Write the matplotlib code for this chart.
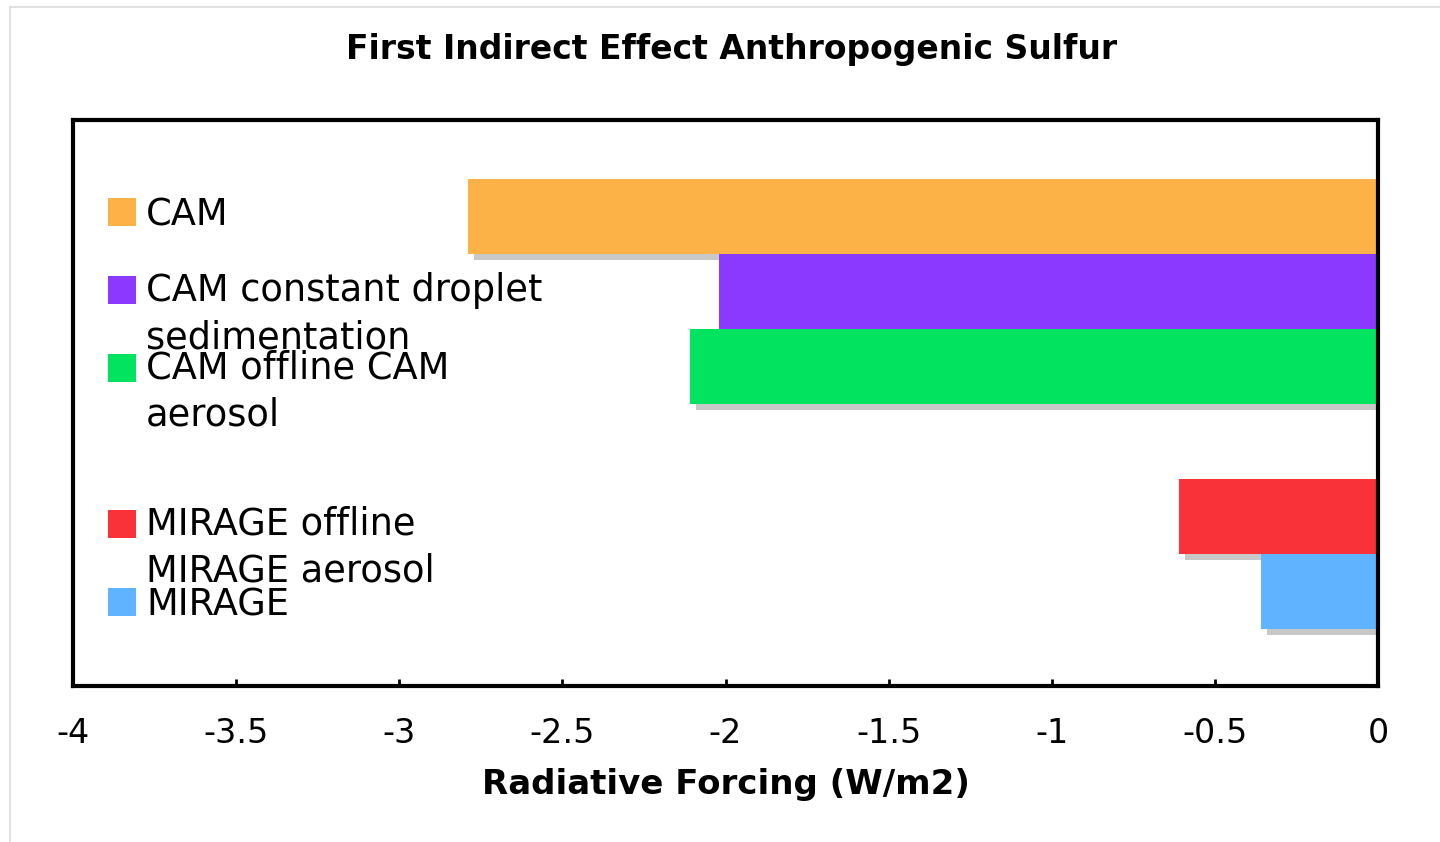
import matplotlib
matplotlib.use('Agg')
import matplotlib.pyplot as plt
import matplotlib.patheffects as pe
from matplotlib.lines import Line2D
from matplotlib.patches import Rectangle

# Data
labels = ['CAM',
          'CAM constant droplet\nsedimentation',
          'CAM offline CAM\naerosol',
          'MIRAGE offline\nMIRAGE aerosol',
          'MIRAGE']
forcing = [-2.79, -2.02, -2.11, -0.61, -0.36]
slots = [0, 1, 2, 4, 5]   # empty slot between the CAM and MIRAGE groups
colors = ['#FDB247', '#8B38FF', '#02E360', '#F83238', '#5FB3FF']
xticks = [-4, -3.5, -3, -2.5, -2, -1.5, -1, -0.5, 0]

W, H = 1440, 842
fig = plt.figure(figsize=(W / 100, H / 100), dpi=100)
fig.patch.set_facecolor('white')

def fx(px):
    return px / W

def fy(py):
    return 1 - py / H

ax = fig.add_axes([fx(73), fy(686), fx(1378) - fx(73), fy(120) - fy(686)])

shadow = [pe.SimplePatchShadow(offset=(4.3, -4.0), shadow_rgbFace='#c8c8c8', alpha=1.0),
          pe.Normal()]
for s, v, c in zip(slots, forcing, colors):
    ax.barh(s, v, height=1.0, color=c, edgecolor='none', path_effects=shadow)

ax.set_xlim(-4, 0)
ax.set_ylim(6.26, -1.287)
ax.set_yticks([])
ax.set_xticks(xticks)
ax.set_xticklabels(['%g' % t for t in xticks])
ax.tick_params(axis='x', direction='in', length=5, width=2, pad=22,
               labelsize=24, colors='black')
for sp in ax.spines.values():
    sp.set_linewidth(3)
    sp.set_color('black')

ax.set_xlabel('Radiative Forcing (W/m2)', fontsize=24.5, fontweight='bold', labelpad=13)
fig.text(fx(732), fy(50), 'First Indirect Effect Anthropogenic Sulfur',
         fontsize=23.8, fontweight='bold', ha='center', va='center')

# Hand-placed legend, as in the original
line_px = 44
for s, lab, c in zip(slots, labels, colors):
    top = 198 + 78 * s
    fig.patches.append(Rectangle((fx(108), fy(top + 28)), fx(28), fy(top) - fy(top + 28),
                                 transform=fig.transFigure, facecolor=c, edgecolor='none'))
    # baseline alignment refers to the last line of the block
    nlines = lab.count('\n')
    fig.text(fx(146), fy(top + 28 + nlines * line_px), lab, fontsize=26.5,
             va='baseline', ha='left', linespacing=1.36)

# thin grey frame around the figure
fig.add_artist(Line2D([fx(10), 1], [fy(7), fy(7)], color='#dcdcdc', lw=1.2,
                      transform=fig.transFigure))
fig.add_artist(Line2D([fx(10), fx(10)], [fy(7), 0], color='#dcdcdc', lw=1.2,
                      transform=fig.transFigure))

fig.savefig('out.png', dpi=100)
